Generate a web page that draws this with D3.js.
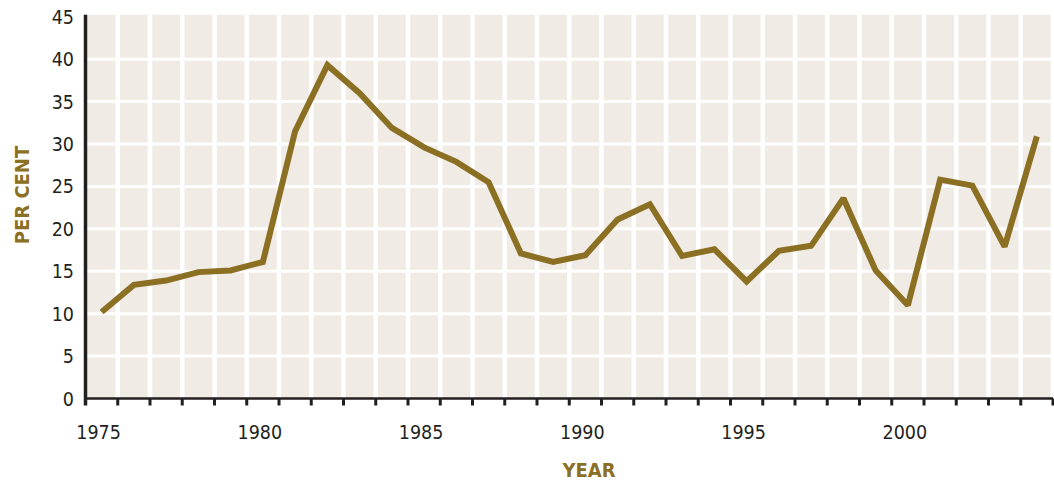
<!DOCTYPE html>
<html>
<head>
<meta charset="utf-8">
<script src="https://cdn.jsdelivr.net/npm/d3@7"></script>
<style>
  body { margin: 0; background: #fff; }
  svg { display: block; }
  .tick-label { font-family: "DejaVu Sans Condensed", "DejaVu Sans", sans-serif; font-size: 19.5px; fill: #231f20; }
  .axis-title { font-family: "DejaVu Sans Condensed", "DejaVu Sans", sans-serif; font-weight: bold; font-size: 20px; fill: #8b6f22; }
</style>
</head>
<body>
<svg id="chart" width="1054" height="483"></svg>
<script>
// values
var years = [1975, 1976, 1977, 1978, 1979, 1980, 1981, 1982, 1983, 1984,
             1985, 1986, 1987, 1988, 1989, 1990, 1991, 1992, 1993, 1994,
             1995, 1996, 1997, 1998, 1999, 2000, 2001, 2002, 2003, 2004];
var perCent = [10.2, 13.4, 13.9, 14.9, 15.1, 16.1, 31.5, 39.3, 36.0, 31.9,
               29.6, 27.9, 25.5, 17.1, 16.1, 16.9, 21.1, 22.9, 16.8, 17.6,
               13.8, 17.4, 18.0, 23.6, 15.1, 11.0, 25.8, 25.1, 17.9, 30.9];
var yTicks = [0, 5, 10, 15, 20, 25, 30, 35, 40, 45];
var xLabels = [1975, 1980, 1985, 1990, 1995, 2000];

var svg = d3.select("#chart");

var x = d3.scaleBand()
    .domain(years)
    .range([85.5, 1053])
    .padding(0);

var y = d3.scaleLinear()
    .domain([0, 45])
    .range([398.5, 16.8]);

var bw = x.bandwidth();
var xEnd = x.range()[1];

// plot background
svg.append("rect")
    .attr("x", x.range()[0])
    .attr("y", y(45) - 2)
    .attr("width", xEnd - x.range()[0])
    .attr("height", y(0) - y(45) + 2)
    .attr("fill", "#f0ebe4");

// grid
var bounds = years.map(function(d) { return x(d); }).concat([xEnd]);

svg.append("g").selectAll("line")
    .data(bounds.slice(1))
  .enter().append("line")
    .attr("x1", function(d) { return d; })
    .attr("x2", function(d) { return d; })
    .attr("y1", y(45) - 2)
    .attr("y2", y(0))
    .attr("stroke", "#fff")
    .attr("stroke-width", 4.5);

svg.append("g").selectAll("line")
    .data(yTicks.filter(function(d) { return d > 0 && d < 45; }))
  .enter().append("line")
    .attr("x1", x.range()[0])
    .attr("x2", xEnd)
    .attr("y1", function(d) { return y(d); })
    .attr("y2", function(d) { return y(d); })
    .attr("stroke", "#fff")
    .attr("stroke-width", 3);

// the series
var line = d3.line()
    .x(function(d, i) { return x(years[i]) + bw / 2; })
    .y(function(d) { return y(d); });

svg.append("path")
    .datum(perCent)
    .attr("d", line)
    .attr("fill", "none")
    .attr("stroke", "#8b6f22")
    .attr("stroke-width", 6)
    .attr("stroke-linejoin", "miter")
    .attr("stroke-miterlimit", 2);

// axes
svg.append("line")
    .attr("x1", x.range()[0]).attr("x2", xEnd)
    .attr("y1", y(0)).attr("y2", y(0))
    .attr("stroke", "#231f20").attr("stroke-width", 2.5);

svg.append("line")
    .attr("x1", x.range()[0]).attr("x2", x.range()[0])
    .attr("y1", y(45) - 2).attr("y2", y(0) + 7)
    .attr("stroke", "#231f20").attr("stroke-width", 3.5);

svg.append("g").selectAll("line")
    .data(bounds.slice(1))
  .enter().append("line")
    .attr("x1", function(d) { return d; })
    .attr("x2", function(d) { return d; })
    .attr("y1", y(0))
    .attr("y2", y(0) + 7)
    .attr("stroke", "#231f20")
    .attr("stroke-width", 3);

svg.append("g").selectAll("text")
    .data(yTicks)
  .enter().append("text")
    .attr("class", "tick-label")
    .attr("x", 74)
    .attr("y", function(d) { return y(d); })
    .attr("dy", "0.36em")
    .attr("text-anchor", "end")
    .text(function(d) { return d; });

svg.append("g").selectAll("text")
    .data(xLabels)
  .enter().append("text")
    .attr("class", "tick-label")
    .attr("x", function(d) { return x(d) + bw / 2 - 3; })
    .attr("y", 439)
    .attr("text-anchor", "middle")
    .text(function(d) { return d; });

// titles
svg.append("text")
    .attr("class", "axis-title")
    .attr("x", 589)
    .attr("y", 477)
    .attr("text-anchor", "middle")
    .text("YEAR");

svg.append("text")
    .attr("class", "axis-title")
    .attr("transform", "translate(29,195) rotate(-90)")
    .attr("text-anchor", "middle")
    .text("PER CENT");
</script>
</body>
</html>
